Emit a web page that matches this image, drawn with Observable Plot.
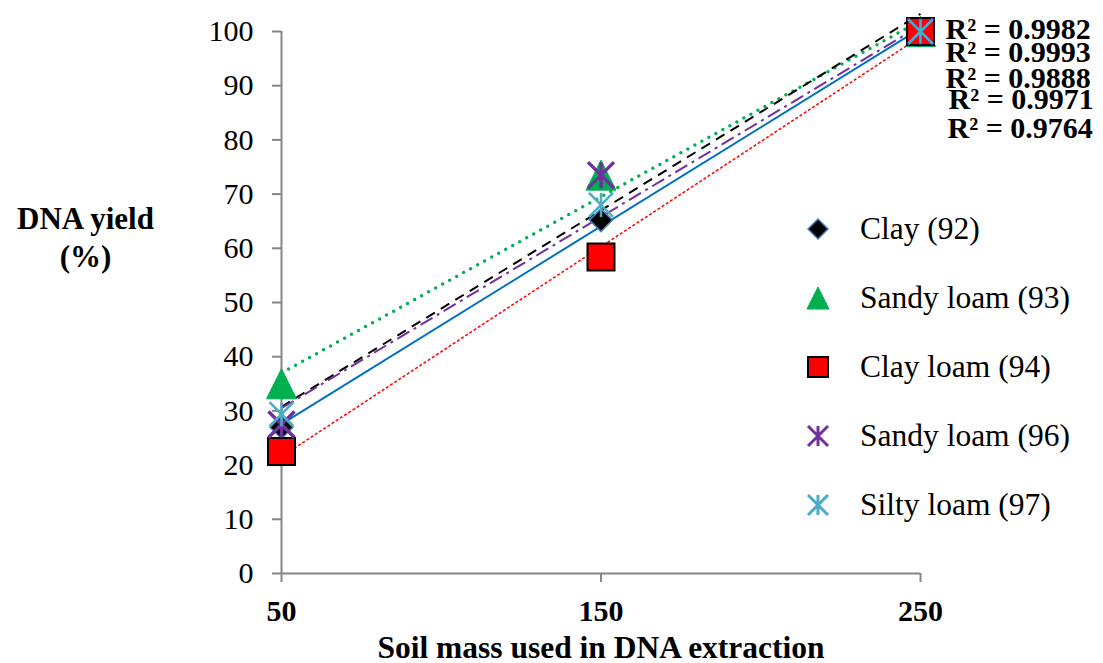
<!DOCTYPE html>
<html>
<head>
<meta charset="utf-8">
<script src="https://cdn.jsdelivr.net/npm/d3@7"></script>
<script src="https://cdn.jsdelivr.net/npm/@observablehq/plot@0.6"></script>
<style>
  html, body { margin: 0; padding: 0; background: #fff; }
  #chart { position: relative; width: 1103px; height: 663px; }
</style>
</head>
<body>
<div id="chart"></div>
<script>
// Soil mass (x) and relative DNA yield (%) for five soils
const masses = [50, 150, 250];
const yTicks = [0, 10, 20, 30, 40, 50, 60, 70, 80, 90, 100];
const seriesNames = ["Clay (92)", "Sandy loam (93)", "Clay loam (94)", "Sandy loam (96)", "Silty loam (97)"];
const clay92 = [27, 65.2, 100];
const sandyLoam93 = [35, 73.5, 100];
const clayLoam94 = [22.5, 58.4, 100];
const sandyLoam96 = [27.5, 73.5, 100];
const siltyLoam97 = [29.4, 68, 100];
const r2Labels = ["R² = 0.9993", "R² = 0.9888", "R² = 0.9982", "R² = 0.9764", "R² = 0.9971"];

// Marker shapes (size = π·r², so h equals the dot radius)
const half = size => Math.sqrt(size / Math.PI);
const diamondSym = {draw(c, s) { const h = half(s); c.moveTo(0, -h); c.lineTo(h, 0); c.lineTo(0, h); c.lineTo(-h, 0); c.closePath(); }};
const triangleSym = {draw(c, s) { const h = half(s); c.moveTo(0, -h); c.lineTo(h, h); c.lineTo(-h, h); c.closePath(); }};
const squareSym = {draw(c, s) { const h = half(s); c.moveTo(-h, -h); c.lineTo(h, -h); c.lineTo(h, h); c.lineTo(-h, h); c.closePath(); }};
const starSym = {draw(c, s) { const h = half(s); c.moveTo(-h, -h); c.lineTo(h, h); c.moveTo(-h, h); c.lineTo(h, -h); c.moveTo(0, -h); c.lineTo(0, h); }};

const styles = [
  {values: clay92, symbol: diamondSym, r: 11.5, legendR: 10, fill: "#000000", mstroke: "#4A7EBB", mwidth: 1.5,
   line: "#0070C0", lineWidth: 2, dash: null, cap: "butt", r2dx: 25, r2dy: 21},
  {values: sandyLoam93, symbol: triangleSym, r: 15, legendR: 11, fill: "#00B050", mstroke: "#00B050", mwidth: 1,
   line: "#00B050", lineWidth: 3.5, dash: "0,8", cap: "round", r2dx: 25, r2dy: 47},
  {values: clayLoam94, symbol: squareSym, r: 13.5, legendR: 10, fill: "#FF0000", mstroke: "#000000", mwidth: 2,
   line: "#FF0000", lineWidth: 1.5, dash: "3,2", cap: "butt", r2dx: 25, r2dy: -2},
  {values: sandyLoam96, symbol: starSym, r: 13, legendR: 10, fill: "none", mstroke: "#7030A0", mwidth: 3.5,
   line: "#000000", lineWidth: 2, dash: "10,7", cap: "butt", r2dx: 27, r2dy: 97},
  {values: siltyLoam97, symbol: starSym, r: 12, legendR: 10, fill: "none", mstroke: "#4BACC6", mwidth: 2.5,
   line: "#7030A0", lineWidth: 2, dash: "14,5,3,5", cap: "butt", r2dx: 28, r2dy: 68}
];

const rows = seriesNames.flatMap((name, i) =>
  masses.map((m, j) => ({series: name, mass: m, yield: styles[i].values[j]})));

const axisGray = "#868686";
const font = "'Liberation Serif', 'Times New Roman', serif";

const trendMarks = seriesNames.map((name, i) => Plot.linearRegressionY(
  rows.filter(d => d.series === name),
  {x: "mass", y: "yield", ci: 0, stroke: styles[i].line, strokeWidth: styles[i].lineWidth,
   strokeDasharray: styles[i].dash, strokeLinecap: styles[i].cap}));

const dotMarks = seriesNames.map((name, i) => Plot.dot(
  rows.filter(d => d.series === name),
  {x: "mass", y: "yield", symbol: styles[i].symbol, r: styles[i].r, fill: styles[i].fill,
   stroke: styles[i].mstroke, strokeWidth: styles[i].mwidth}));

// R² labels sit beside the last point of each series
const r2Marks = seriesNames.map((name, i) => Plot.text(
  rows.filter(d => d.series === name && d.mass === d3.max(masses)),
  {x: "mass", y: "yield", text: () => r2Labels[i], textAnchor: "start", dx: styles[i].r2dx, dy: styles[i].r2dy,
   fontWeight: "bold", fontSize: 30, fill: "black"}));

const svg = Plot.plot({
  width: 1103,
  height: 663,
  marginLeft: 281,
  marginRight: 183,
  marginTop: 31,
  marginBottom: 90,
  x: {domain: d3.extent(masses)},
  y: {domain: d3.extent(yTicks)},
  style: {fontFamily: font, fontSize: "30px", color: "black", background: "white", overflow: "visible"},
  marks: [
    Plot.axisY({ticks: yTicks, tickSize: 9, tickPadding: 19, stroke: axisGray, strokeWidth: 2, fill: "black", label: null, fontSize: 30}),
    Plot.axisX({ticks: masses, tickSize: 9, tickPadding: 17, tickFormat: d => String(d), stroke: axisGray, strokeWidth: 2,
                fill: "black", fontWeight: "bold", label: null, fontSize: 30}),
    Plot.ruleX([d3.min(masses)], {stroke: axisGray, strokeWidth: 2}),
    Plot.ruleY([d3.min(yTicks)], {stroke: axisGray, strokeWidth: 2}),
    ...trendMarks,
    ...dotMarks,
    ...r2Marks,
    Plot.text(["Soil mass used in DNA extraction"], {frameAnchor: "bottom", lineAnchor: "middle", textAnchor: "middle",
      dy: 74, fontWeight: "bold", fontSize: 31.5, fill: "black"}),
    Plot.text(["DNA yield\n(%)"], {frameAnchor: "left", lineAnchor: "middle", textAnchor: "middle",
      dx: -196, dy: -67, lineHeight: 1.23, fontWeight: "bold", fontSize: 31, fill: "black"})
  ]
});

// Legend: symbol and series name per row
const legend = d3.select(svg).append("g")
  .style("font-family", font).style("font-size", "31.5px").attr("text-anchor", "start");
seriesNames.forEach((name, i) => {
  const s = styles[i];
  const cy = 229 + 69 * i;
  const p = d3.path();
  s.symbol.draw(p, Math.PI * s.legendR * s.legendR);
  legend.append("path")
    .attr("d", p.toString())
    .attr("transform", `translate(818,${cy})`)
    .attr("fill", s.fill)
    .attr("stroke", s.mstroke)
    .attr("stroke-width", s.symbol === starSym ? 3 : s.mwidth);
  legend.append("text")
    .attr("x", 860).attr("y", cy).attr("dy", "0.32em")
    .attr("text-anchor", "start")
    .style("font-family", font)
    .attr("fill", "black")
    .text(name);
});

document.getElementById("chart").appendChild(svg);
</script>
</body>
</html>
